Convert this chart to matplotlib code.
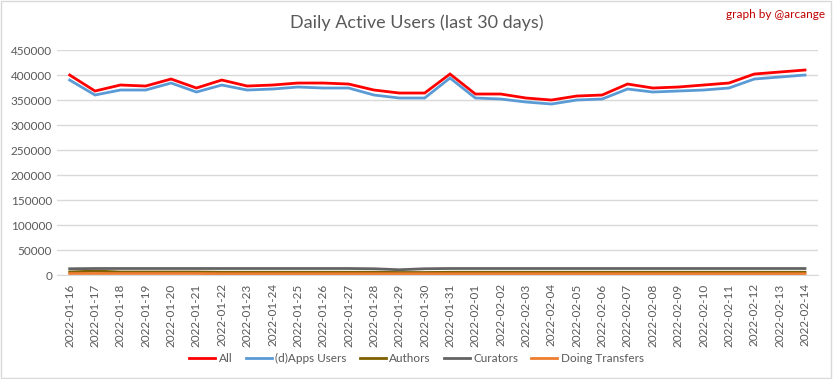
import matplotlib.pyplot as plt
import pandas as pd
from matplotlib.patches import Rectangle

dates = pd.date_range("2022-01-16", "2022-02-14").strftime("%Y-%m-%d").tolist()

all_users = [400000, 368000, 380000, 378000, 392000, 374000, 390000, 378000, 380000, 384000,
             384000, 382000, 370000, 364000, 364000, 402000, 362000, 362000, 354000, 350000,
             358000, 360000, 382000, 374000, 376000, 380000, 384000, 402000, 406000, 410000]
apps_users = [390000, 360000, 370000, 370000, 384000, 366000, 380000, 370000, 372000, 376000,
              374000, 374000, 360000, 354000, 354000, 394000, 354000, 352000, 346000, 342000,
              350000, 352000, 372000, 366000, 368000, 370000, 374000, 392000, 396000, 400000]
authors = [6000, 8000, 6000, 6000, 6000, 6000, 5500, 5500, 5500, 5500,
           5500, 5500, 5500, 5000, 5000, 5500, 5500, 5500, 5500, 5500,
           5500, 5500, 5500, 5500, 5500, 5500, 5500, 5500, 5500, 5500]
curators = [12500, 13000, 13000, 13000, 13000, 13000, 13000, 13000, 13000, 13000,
            13000, 13000, 12500, 10500, 12500, 13000, 13000, 13000, 13000, 13000,
            13000, 13000, 13000, 13000, 13000, 13000, 13000, 13000, 13000, 13000]
transfers = [3000, 3000, 3000, 3000, 3000, 3000, 2500, 2500, 2500, 2500,
             2500, 2500, 2500, 2500, 2500, 2500, 2500, 2500, 2500, 2500,
             2500, 2500, 2500, 2500, 2500, 2500, 2500, 2500, 2500, 2500]

series = [
    ("All", all_users, "#FF0000"),
    ("(d)Apps Users", apps_users, "#5B9BD5"),
    ("Authors", authors, "#7F6000"),
    ("Curators", curators, "#636363"),
    ("Doing Transfers", transfers, "#ED7D31"),
]

plt.rcParams["font.family"] = ["Lato", "DejaVu Sans"]
text_color = "#595959"

fig = plt.figure(figsize=(8.33, 3.79), dpi=100)
ax = fig.add_axes([0.0684, 0.2744, 0.9132, 0.5936])

x = list(range(len(dates)))
for name, values, color in series:
    ax.plot(x, values, color=color, linewidth=2.0, label=name, solid_joinstyle="miter")

ax.set_xlim(-0.5, len(dates) - 0.5)
ax.set_ylim(0, 450000)
ax.set_yticks(range(0, 450001, 50000))
ax.set_xticks(x)
ax.set_xticklabels(dates, rotation=90)
ax.tick_params(axis="both", length=0, labelsize=8.5, colors=text_color)
ax.tick_params(axis="x", pad=6)
ax.grid(axis="y", color="#D9D9D9", linewidth=1)
ax.set_axisbelow(True)
for side in ["top", "right", "left"]:
    ax.spines[side].set_visible(False)
ax.spines["bottom"].set_color("#D9D9D9")

fig.text(0.5, 0.94, "Daily Active Users (last 30 days)", ha="center", va="center",
         fontsize=13, color=text_color)
fig.text(0.99, 0.963, "graph by @arcange", ha="right", va="center",
         fontsize=8.5, color="#C00000")

fig.legend(loc="center", bbox_to_anchor=(0.5, 0.055), ncol=5, frameon=False,
           fontsize=8.5, labelcolor=text_color, handlelength=2.2, handletextpad=0.3,
           columnspacing=1.1)

fig.patches.append(Rectangle((0.001, 0.002), 0.997, 0.995, transform=fig.transFigure,
                             fill=False, edgecolor="#D9D9D9", linewidth=1))

fig.savefig("out.png", dpi=100)
